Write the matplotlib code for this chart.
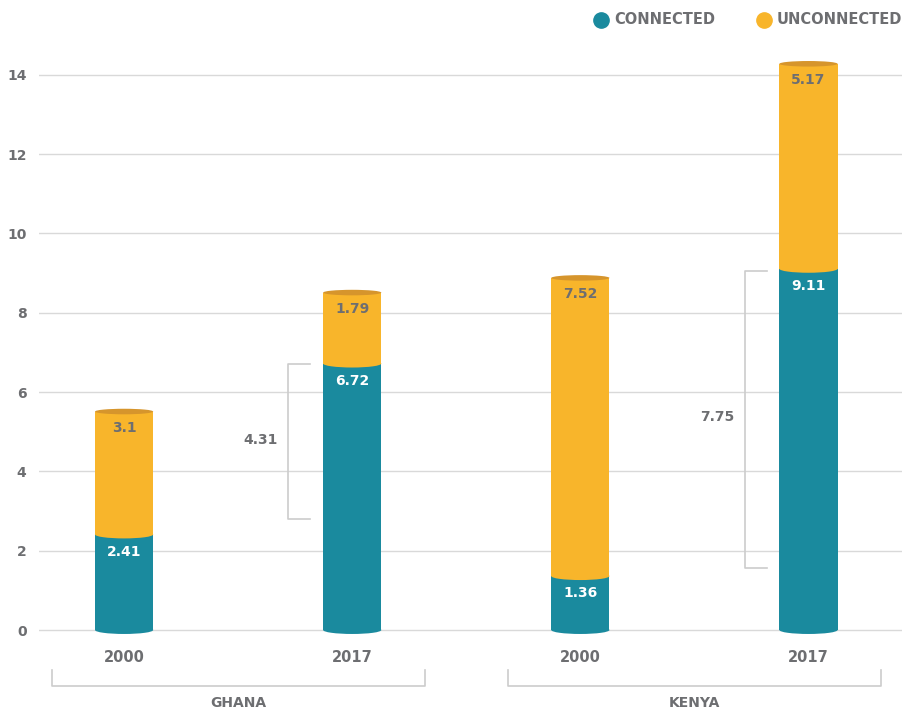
import matplotlib.pyplot as plt
from matplotlib.patches import Ellipse

# data
years = ['2000', '2017', '2000', '2017']
countries = ['GHANA', 'KENYA']
connected = [2.41, 6.72, 1.36, 9.11]
unconnected = [3.1, 1.79, 7.52, 5.17]
# gap brackets (Ghana 2017, Kenya 2017)
gap_bar = [1, 3]
gap_low = [2.8, 1.57]
gap_high = [6.7, 9.05]
gap_text = ['4.31', '7.75']

teal = '#1a8a9e'
gold = '#f8b52b'
gold_dark = '#d6952c'
grey = '#6d6e71'
gridc = '#d9d9d9'

plt.rcParams['font.family'] = ['DejaVu Sans']
plt.rcParams['font.weight'] = 'bold'

fig = plt.figure(figsize=(9.02, 7.13), dpi=100)
ax = fig.add_axes([39 / 902, 73 / 713, 1 - 39 / 902, 600 / 713])

pos = list(range(len(years)))
w = 0.255
eh = 0.2     # ellipse height for bottoms
ch = 0.14    # top cap height

for v in range(0, 16, 2):
    ax.axhline(v, color=gridc, lw=1, zorder=0)

ax.bar(pos, connected, width=w, color=teal, zorder=2)
ax.bar(pos, unconnected, bottom=connected, width=w, color=gold, zorder=3)

for i in pos:
    c = connected[i]
    t = c + unconnected[i]
    ax.add_patch(Ellipse((i, 0), w, eh, color=teal, zorder=2, lw=0))
    ax.add_patch(Ellipse((i, c), w, eh, color=gold, zorder=3, lw=0))
    ax.add_patch(Ellipse((i, t), w, ch, color=gold_dark, zorder=4, lw=0))
    ax.annotate(f'{c:g}', (i, c), xytext=(0, -12.5), textcoords='offset points',
                ha='center', va='center', color='white', fontsize=10, fontweight='bold', zorder=5)
    ax.annotate(f'{unconnected[i]:g}', (i, t), xytext=(0, -11.5), textcoords='offset points',
                ha='center', va='center', color=grey, fontsize=10, fontweight='bold', zorder=5)

# brackets showing the gap
for b, lo, hi, txt in zip(gap_bar, gap_low, gap_high, gap_text):
    x0 = b - 0.28
    x1 = b - 0.183
    ax.plot([x1, x0, x0, x1], [hi, hi, lo, lo], color='#cccccc', lw=1.2, zorder=1)
    ax.text(b - 0.4, (lo + hi) / 2 + 0.05, txt, ha='center', va='center',
            color=grey, fontsize=10, fontweight='bold')

ax.set_xlim(-0.373, 3.41)
ax.set_ylim(-0.252, 14.88)
ax.set_yticks(range(0, 16, 2))
ax.set_xticks(pos)
ax.set_xticklabels(years)
ax.tick_params(axis='y', length=0, pad=9, labelsize=10, labelcolor=grey)
ax.tick_params(axis='x', length=0, pad=7, labelsize=10.5, labelcolor=grey)
for s in ax.spines.values():
    s.set_visible(False)

# country group brackets
for g, name in enumerate(countries):
    a = pos[2 * g] - 0.316
    b = pos[2 * g + 1] + 0.318
    ax.plot([a, a, b, b], [-1.01, -1.41, -1.41, -1.01], color='#cccccc', lw=1.2, clip_on=False)
    ax.text((a + b) / 2, -1.85, name, ha='center', va='center', color=grey,
            fontsize=10, fontweight='bold', clip_on=False)

# legend
for xm, lab, col in [(601, 'CONNECTED', teal), (764, 'UNCONNECTED', gold)]:
    ax.plot([xm / 902], [1 - 20 / 713], 'o', color=col, markersize=11,
            transform=fig.transFigure, clip_on=False)
    fig.text((xm + 13) / 902, 1 - 20 / 713, lab, ha='left', va='center',
             color=grey, fontsize=10.5, fontweight='bold')

fig.savefig('out.png', dpi=100)
